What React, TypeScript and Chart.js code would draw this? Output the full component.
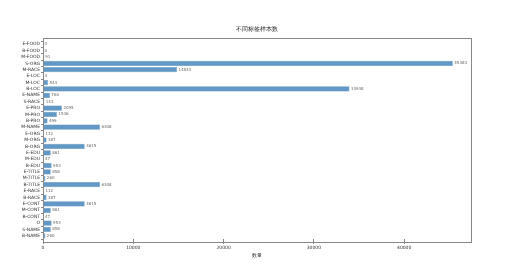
import React, { useEffect, useRef } from "react";
import { Chart, registerables } from "chart.js";

Chart.register(...registerables);

const chartTitle = "不同标签样本数";
const xAxisTitle = "数量";
const labels = [
  "E-FOOD", "B-FOOD", "M-FOOD", "S-ORG", "M-RACE", "E-LOC", "M-LOC", "B-LOC",
  "E-NAME", "S-RACE", "E-PRO", "M-PRO", "B-PRO", "M-NAME", "E-ORG", "M-ORG",
  "B-ORG", "E-EDU", "M-EDU", "B-EDU", "E-TITLE", "M-TITLE", "B-TITLE", "E-RACE",
  "B-RACE", "E-CONT", "M-CONT", "B-CONT", "O", "S-NAME", "B-NAME",
];
const counts = [
  0, 0, 91, 45383, 14833, 4, 544, 33938,
  760, 143, 2095, 1536, 499, 6308, 112, 387,
  4615, 861, 47, 953, 858, 260, 6308, 112,
  387, 4615, 861, 47, 953, 858, 260,
];
const xTicks = [0, 10000, 20000, 30000, 40000];

const FONT = "'DejaVu Sans', sans-serif";

const framePlugin = {
  id: "frame",
  afterDatasetsDraw(chart: any) {
    const { ctx, chartArea } = chart;
    ctx.save();
    ctx.strokeStyle = "#888";
    ctx.lineWidth = 1;
    ctx.strokeRect(
      Math.round(chartArea.left) + 0.5,
      Math.round(chartArea.top - 3) + 0.5,
      Math.round(chartArea.right - chartArea.left),
      Math.round(chartArea.bottom - chartArea.top + 6)
    );
    // title centred over the plot area
    ctx.fillStyle = "#222";
    ctx.font = "6px " + FONT;
    ctx.textAlign = "center";
    ctx.textBaseline = "middle";
    ctx.fillText(chartTitle, (chartArea.left + chartArea.right) / 2, 29);
    // value labels
    const meta = chart.getDatasetMeta(0);
    ctx.fillStyle = "#666";
    ctx.font = "4px " + FONT;
    ctx.textBaseline = "middle";
    ctx.textAlign = "left";
    meta.data.forEach((bar: any, i: number) => {
      ctx.fillText(String(counts[i]), bar.x + 1.5, bar.y);
    });
    ctx.restore();
  },
};

export default function App() {
  const ref = useRef<HTMLCanvasElement | null>(null);
  useEffect(() => {
    if (!ref.current) return;
    const chart = new Chart(ref.current, {
      type: "bar",
      data: {
        labels,
        datasets: [
          {
            data: counts,
            backgroundColor: "#6298c6",
            borderColor: "#5088ba",
            borderWidth: 0.5,
            categoryPercentage: 1,
            barPercentage: 0.82,
          },
        ],
      },
      options: {
        indexAxis: "y",
        animation: false,
        responsive: false,
        layout: { padding: { left: 0, right: 34, top: 41, bottom: 18 } },
        plugins: {
          legend: { display: false },
          tooltip: { enabled: false },
          title: { display: false },
        },
        scales: {
          x: {
            min: 0,
            max: 47400,
            afterBuildTicks(scale: any) {
              scale.ticks = xTicks.map((v) => ({ value: v }));
            },
            afterFit(scale: any) {
              scale.height = 20;
            },
            grid: { display: true, drawOnChartArea: false, drawTicks: true, tickLength: 5, color: "#888" },
            border: { display: false },
            ticks: {
              color: "#333",
              font: { size: 4.5, family: FONT },
              padding: 1,
              maxRotation: 0,
              callback: (v: any) => String(v),
            },
            title: {
              display: true,
              text: xAxisTitle,
              color: "#333",
              font: { size: 4.5, family: FONT },
              padding: { top: 1, bottom: 0 },
            },
          },
          y: {
            offset: true,
            afterFit(scale: any) {
              scale.width = 43;
            },
            grid: { display: true, drawOnChartArea: false, drawTicks: true, tickLength: 2, color: "#888" },
            border: { display: false },
            ticks: {
              color: "#333",
              font: { size: 4.5, family: FONT },
              padding: 1,
              autoSkip: false,
            },
          },
        },
      },
      plugins: [framePlugin],
    });
    return () => chart.destroy();
  }, []);
  return (
    <div style={{ position: "absolute", left: 0, top: 0, width: 505, height: 277, background: "#fff" }}>
      <canvas ref={ref} width={505} height={277} style={{ width: 505, height: 277 }} />
    </div>
  );
}
